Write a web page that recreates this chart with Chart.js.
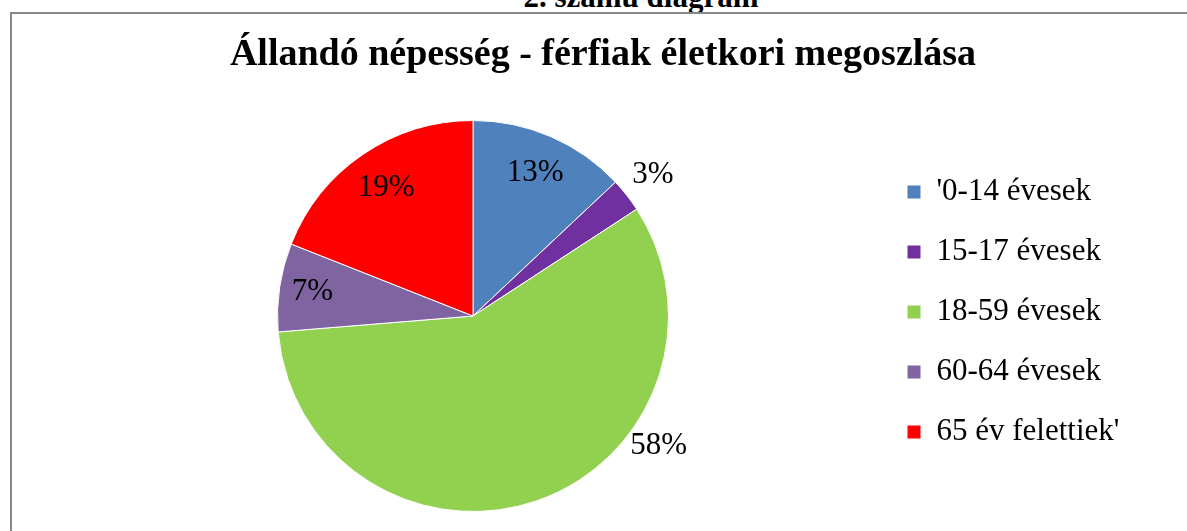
<!DOCTYPE html>
<html lang="hu">
<head>
<meta charset="utf-8">
<title>Állandó népesség - férfiak életkori megoszlása</title>
<script src="https://cdn.jsdelivr.net/npm/chart.js@4.4.1/dist/chart.umd.min.js"></script>
<style>
    html, body { margin: 0; padding: 0; background: #fff; overflow: hidden; }
    .caption {
        position: absolute; left: 441px; top: -19px; width: 400px;
        text-align: center; font: bold 31px/31px 'Liberation Serif', 'Times New Roman', serif; color: #000;
    }
    .frame {
        position: absolute; left: 10px; top: 12px; width: 1300px; height: 600px;
        border-top: 2px solid #878787; border-left: 2px solid #878787;
    }
    #chart { position: absolute; left: 0; top: 0; }
</style>
</head>
<body>
<div class="caption">2. számú diagram</div>
<div class="frame"></div>
<canvas id="chart" width="1187" height="531"></canvas>
<script>
const categories = ["'0-14 évesek", '15-17 évesek', '18-59 évesek', '60-64 évesek', "65 év felettiek'"];
const shares = [13.0, 2.8, 57.9, 7.3, 19.0];
const sliceColors = ['#4F81BD', '#7030A0', '#92D050', '#8064A2', '#FF0000'];

// hol álljon a százalék felirat: r = sugár aránya, angle = fok (felülről, óramutató szerint)
const labelPlacement = [{ r: 0.80 }, { r: 1.17 }, { r: 1.16, angle: 125 }, { r: 0.83 }, { r: 0.79 }];

const serif = "'Liberation Serif', 'Times New Roman', serif";

const percentLabels = {
    id: 'percentLabels',
    afterDatasetsDraw(chart) {
        const ctx = chart.ctx;
        const meta = chart.getDatasetMeta(0);
        const values = chart.data.datasets[0].data;
        const total = values.reduce((a, b) => a + b, 0);
        ctx.save();
        ctx.font = '31px ' + serif;
        ctx.fillStyle = '#000';
        ctx.textAlign = 'center';
        ctx.textBaseline = 'middle';
        meta.data.forEach((arc, i) => {
            const p = labelPlacement[i];
            const a = p.angle !== undefined
                ? -Math.PI / 2 + p.angle * Math.PI / 180
                : (arc.startAngle + arc.endAngle) / 2;
            const r = arc.outerRadius * p.r;
            const text = Math.round(values[i] / total * 100) + '%';
            ctx.fillText(text, arc.x + Math.cos(a) * r, arc.y + Math.sin(a) * r);
        });
        ctx.restore();
    }
};

// a jelmagyarázat fix szélességű legyen, és lejjebb üljön
const legendFit = {
    id: 'legendFit',
    beforeInit(chart) {
        const origFit = chart.legend.fit;
        chart.legend.fit = function() {
            origFit.call(this);
            this.width = 260;
        };
    },
    afterLayout(chart) {
        chart.legend.top += 49;
        chart.legend.bottom += 49;
    }
};

new Chart(document.getElementById('chart'), {
    type: 'pie',
    data: {
        labels: categories,
        datasets: [{
            data: shares,
            backgroundColor: sliceColors,
            borderColor: '#ffffff',
            borderWidth: 1
        }]
    },
    options: {
        responsive: false,
        animation: false,
        layout: { padding: { top: 14, left: 68, right: 49, bottom: 19 } },
        plugins: {
            title: {
                display: true,
                text: 'Állandó népesség - férfiak életkori megoszlása',
                color: '#000',
                font: { family: serif, size: 38, weight: 'bold' },
                padding: { top: 18.5, bottom: 41.9 }
            },
            legend: {
                position: 'right',
                align: 'center',
                labels: {
                    color: '#000',
                    font: { family: serif, size: 31 },
                    boxWidth: 14,
                    boxHeight: 14,
                    padding: 29
                }
            },
            tooltip: { enabled: false }
        }
    },
    plugins: [percentLabels, legendFit]
});
</script>
</body>
</html>
